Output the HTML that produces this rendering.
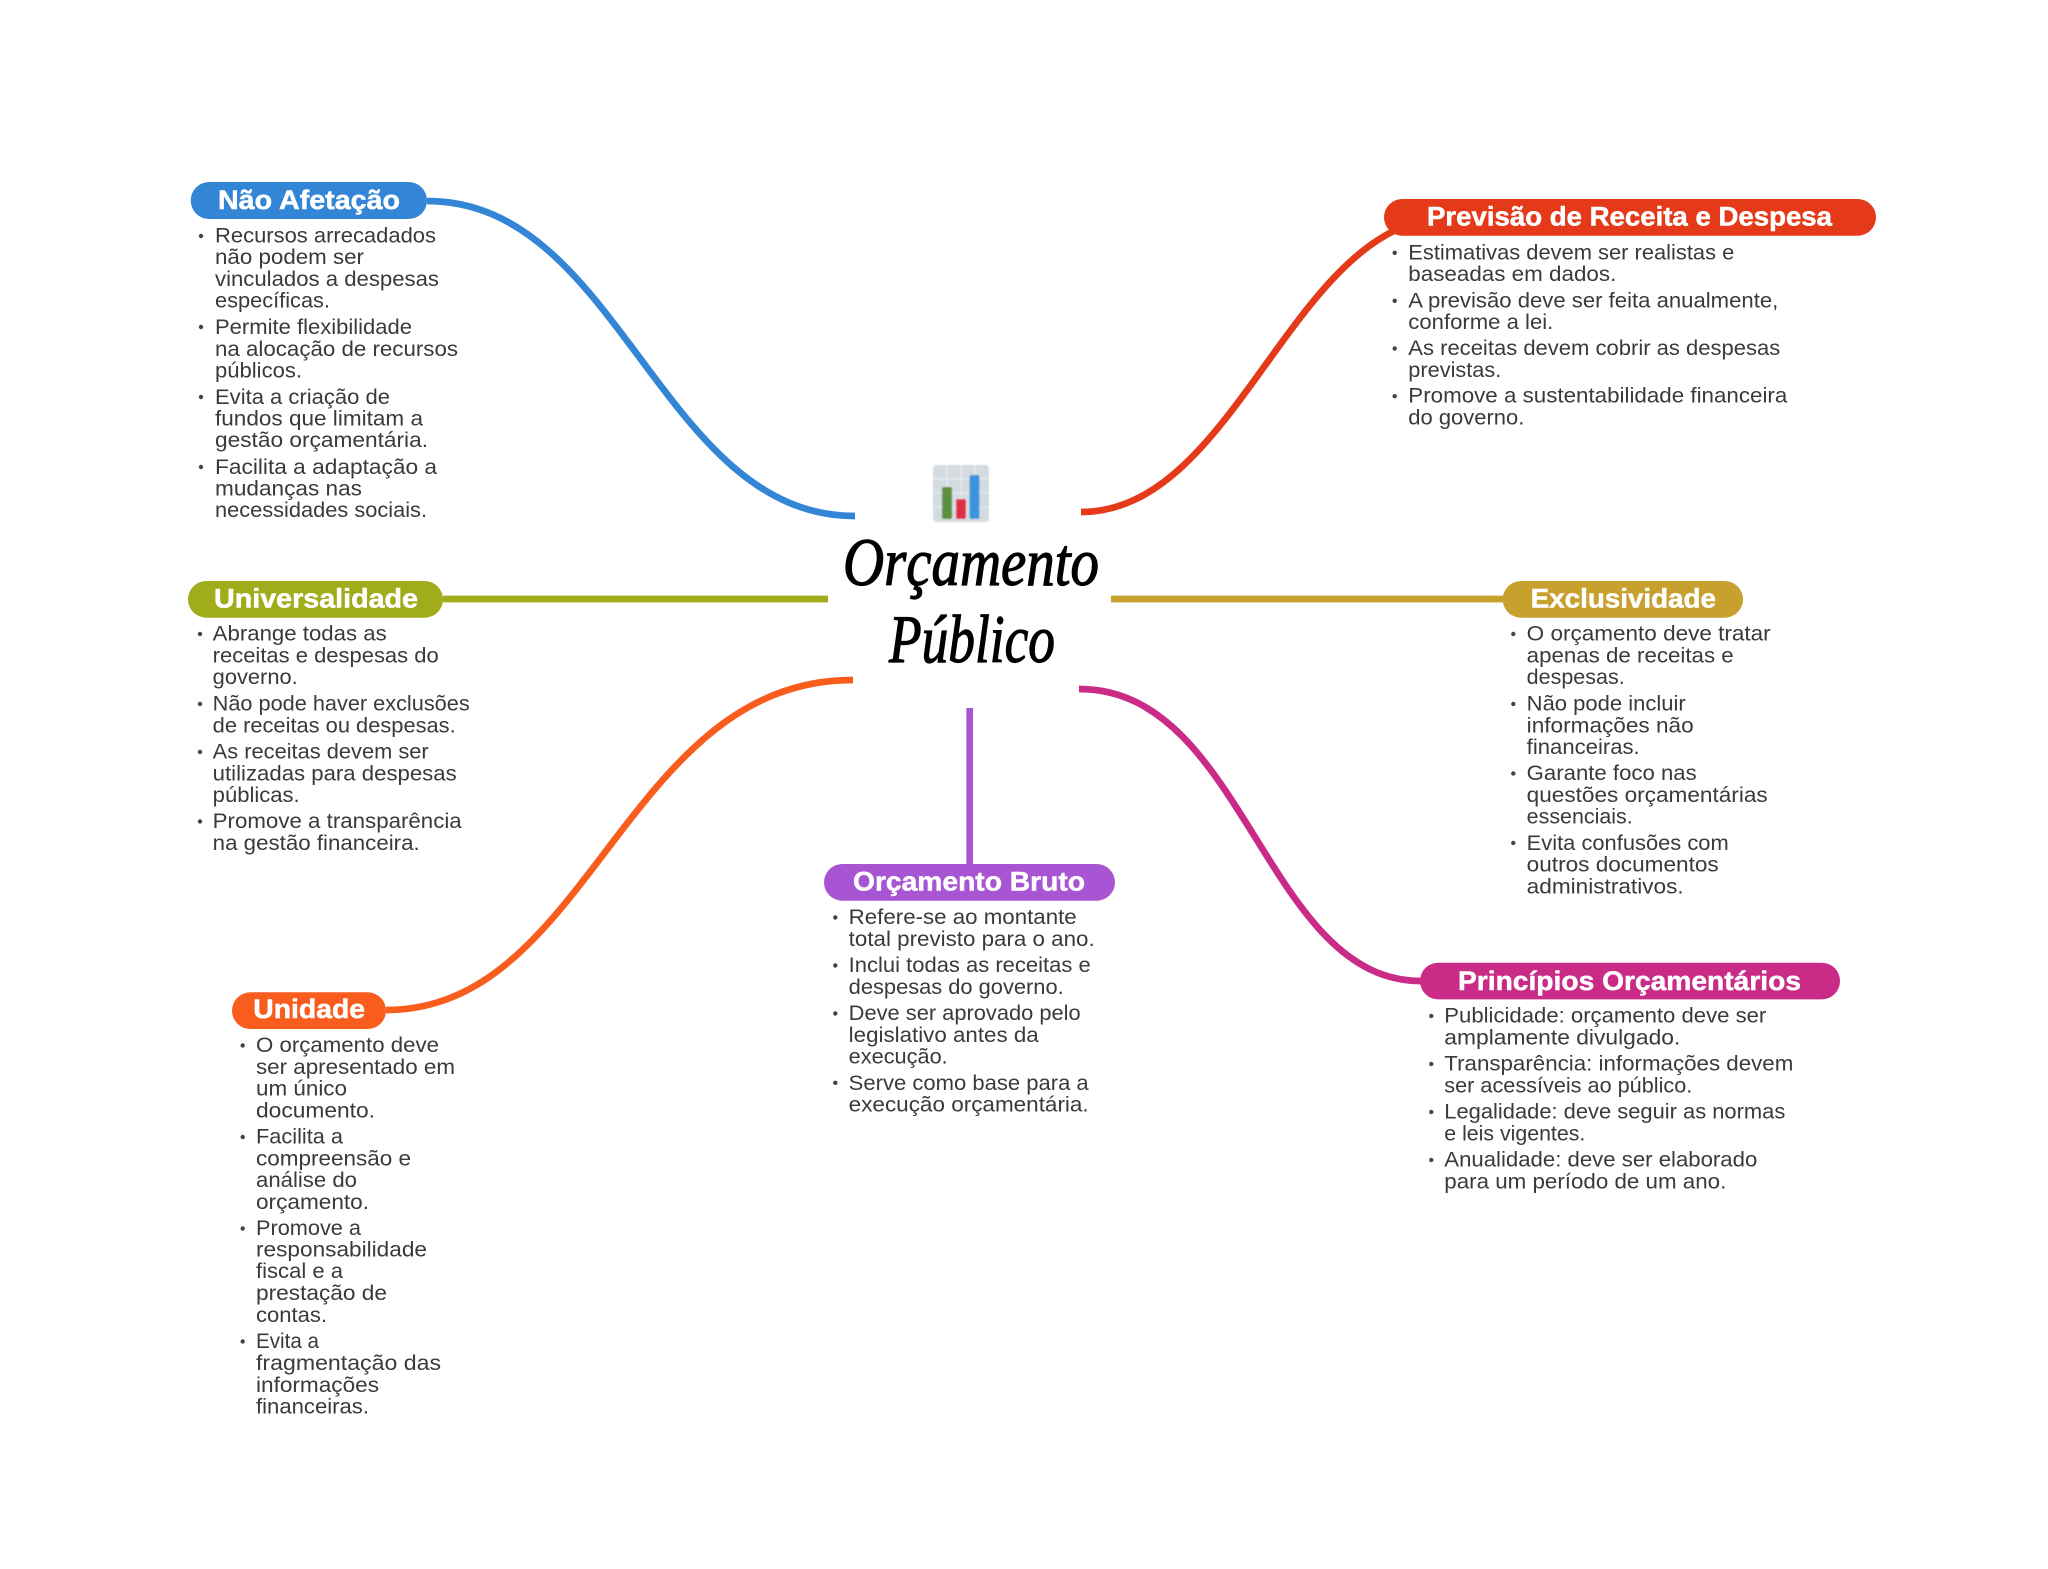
<!DOCTYPE html>
<html lang="pt">
<head>
<meta charset="utf-8">
<title>Orçamento Público</title>
<style>
html,body{margin:0;padding:0;background:#fff;width:2048px;height:1569px;overflow:hidden}
svg{display:block;position:absolute;left:0;top:0}
.b text{font:400 21px "Liberation Sans",sans-serif;fill:#3a3a3a}
.b circle{fill:#444}
.t{font:700 26.5px "Liberation Sans",sans-serif;fill:#fff;stroke:#fff;stroke-width:.5}
.c{font:italic 400 68px "Liberation Serif",serif;fill:#000;stroke:#000;stroke-width:1.2}
path,line{fill:none;stroke-width:6.7}
</style>
</head>
<body>
<svg width="2048" height="1569" viewBox="0 0 2048 1569" xmlns="http://www.w3.org/2000/svg">
<defs><filter id="bl" x="-5%" y="-5%" width="110%" height="110%"><feGaussianBlur stdDeviation="0.9"/></filter></defs>
<rect width="2048" height="1569" fill="#fff"/>

<!-- connectors -->
<path d="M427 201 C620 201 660 516 855 516" stroke="#3385d6"/>
<path d="M1081 512 C1220 512 1280 280 1400 228" stroke="#e43a19"/>
<line x1="443" y1="599" x2="828" y2="599" stroke="#a0ac1a"/>
<line x1="1111" y1="599" x2="1503" y2="599" stroke="#c8a02e"/>
<path d="M386 1010 C590 1010 625 680 853 680" stroke="#f95d1e"/>
<path d="M1079 689 C1245 689 1265 981 1421 981" stroke="#c92b86"/>
<line x1="969.7" y1="708" x2="969.7" y2="865" stroke="#a855d4"/>

<!-- icon -->
<g filter="url(#bl)">
<rect x="933" y="465" width="56" height="57" rx="4" fill="#d3dbe1"/>
<line x1="947" y1="465" x2="947" y2="522" stroke="#e4e9ed" style="stroke-width:1.6"/>
<line x1="961" y1="465" x2="961" y2="522" stroke="#e4e9ed" style="stroke-width:1.6"/>
<line x1="975" y1="465" x2="975" y2="522" stroke="#e4e9ed" style="stroke-width:1.6"/>
<line x1="933" y1="479" x2="989" y2="479" stroke="#e4e9ed" style="stroke-width:1.6"/>
<line x1="933" y1="493" x2="989" y2="493" stroke="#e4e9ed" style="stroke-width:1.6"/>
<line x1="933" y1="507" x2="989" y2="507" stroke="#e4e9ed" style="stroke-width:1.6"/>
<rect x="942" y="487" width="10" height="32" rx="2" fill="#5c913b"/>
<rect x="956" y="499" width="10" height="20" rx="2" fill="#dd2e44"/>
<rect x="969.5" y="475" width="10" height="44" rx="2" fill="#3b94dc"/>
</g>

<!-- central title -->
<text class="c" x="843" y="585" textLength="256" lengthAdjust="spacingAndGlyphs">Orçamento</text>
<text class="c" x="889" y="662" textLength="166" lengthAdjust="spacingAndGlyphs">Público</text>

<!-- pills -->
<rect x="190.7" y="182" width="236.3" height="37" rx="18.5" fill="#3385d6"/>
<text class="t" x="218" y="209" textLength="182" lengthAdjust="spacingAndGlyphs">Não Afetação</text>
<rect x="188" y="581" width="255" height="36.7" rx="18.3" fill="#a0ac1a"/>
<text class="t" x="214" y="607.7" textLength="204" lengthAdjust="spacingAndGlyphs">Universalidade</text>
<rect x="232" y="992.3" width="154" height="36.7" rx="18.3" fill="#f95d1e"/>
<text class="t" x="253.3" y="1018" textLength="111.7" lengthAdjust="spacingAndGlyphs">Unidade</text>
<rect x="824" y="864" width="291" height="36.7" rx="18.3" fill="#a855d4"/>
<text class="t" x="853" y="890.7" textLength="232" lengthAdjust="spacingAndGlyphs">Orçamento Bruto</text>
<rect x="1502.7" y="581" width="240.3" height="36.7" rx="18.3" fill="#c8a02e"/>
<text class="t" x="1530.7" y="607.7" textLength="185.3" lengthAdjust="spacingAndGlyphs">Exclusividade</text>
<rect x="1420" y="962.7" width="420" height="36.7" rx="18.3" fill="#c92b86"/>
<text class="t" x="1458" y="990" textLength="343" lengthAdjust="spacingAndGlyphs">Princípios Orçamentários</text>
<rect x="1384" y="199" width="492" height="36.7" rx="18.3" fill="#e43a19"/>
<text class="t" x="1427" y="225.7" textLength="405" lengthAdjust="spacingAndGlyphs">Previsão de Receita e Despesa</text>

<!-- Não Afetação -->
<g class="b">
<circle cx="201" cy="236" r="2.2"/><circle cx="201" cy="327" r="2.2"/><circle cx="201" cy="397" r="2.2"/><circle cx="201" cy="467" r="2.2"/>
<text x="215" y="242.3" textLength="221" lengthAdjust="spacingAndGlyphs">Recursos arrecadados</text>
<text x="215" y="264" textLength="149" lengthAdjust="spacingAndGlyphs">não podem ser</text>
<text x="215" y="286" textLength="224" lengthAdjust="spacingAndGlyphs">vinculados a despesas</text>
<text x="215" y="307.7" textLength="115" lengthAdjust="spacingAndGlyphs">específicas.</text>
<text x="215" y="334" textLength="197" lengthAdjust="spacingAndGlyphs">Permite flexibilidade</text>
<text x="215" y="356" textLength="243" lengthAdjust="spacingAndGlyphs">na alocação de recursos</text>
<text x="215" y="377.5" textLength="87" lengthAdjust="spacingAndGlyphs">públicos.</text>
<text x="215" y="404" textLength="175" lengthAdjust="spacingAndGlyphs">Evita a criação de</text>
<text x="215" y="425.5" textLength="208" lengthAdjust="spacingAndGlyphs">fundos que limitam a</text>
<text x="215" y="447" textLength="213" lengthAdjust="spacingAndGlyphs">gestão orçamentária.</text>
<text x="215" y="474" textLength="222" lengthAdjust="spacingAndGlyphs">Facilita a adaptação a</text>
<text x="215" y="495.5" textLength="147" lengthAdjust="spacingAndGlyphs">mudanças nas</text>
<text x="215" y="517" textLength="212" lengthAdjust="spacingAndGlyphs">necessidades sociais.</text>
</g>

<!-- Universalidade -->
<g class="b">
<circle cx="200" cy="634" r="2.2"/><circle cx="200" cy="704" r="2.2"/><circle cx="200" cy="752" r="2.2"/><circle cx="200" cy="821.5" r="2.2"/>
<text x="212.7" y="640.7" textLength="174" lengthAdjust="spacingAndGlyphs">Abrange todas as</text>
<text x="212.7" y="662.5" textLength="226" lengthAdjust="spacingAndGlyphs">receitas e despesas do</text>
<text x="212.7" y="684" textLength="85" lengthAdjust="spacingAndGlyphs">governo.</text>
<text x="212.7" y="710.7" textLength="257" lengthAdjust="spacingAndGlyphs">Não pode haver exclusões</text>
<text x="212.7" y="732.5" textLength="243" lengthAdjust="spacingAndGlyphs">de receitas ou despesas.</text>
<text x="212.7" y="758.7" textLength="216" lengthAdjust="spacingAndGlyphs">As receitas devem ser</text>
<text x="212.7" y="780.5" textLength="244" lengthAdjust="spacingAndGlyphs">utilizadas para despesas</text>
<text x="212.7" y="802" textLength="87" lengthAdjust="spacingAndGlyphs">públicas.</text>
<text x="212.7" y="828" textLength="249" lengthAdjust="spacingAndGlyphs">Promove a transparência</text>
<text x="212.7" y="850" textLength="207" lengthAdjust="spacingAndGlyphs">na gestão financeira.</text>
</g>

<!-- Unidade -->
<g class="b">
<circle cx="242.7" cy="1045.5" r="2.2"/><circle cx="242.7" cy="1137" r="2.2"/><circle cx="242.7" cy="1228.5" r="2.2"/><circle cx="242.7" cy="1341.5" r="2.2"/>
<text x="256" y="1052" textLength="183" lengthAdjust="spacingAndGlyphs">O orçamento deve</text>
<text x="256" y="1074" textLength="199" lengthAdjust="spacingAndGlyphs">ser apresentado em</text>
<text x="256" y="1095.5" textLength="91" lengthAdjust="spacingAndGlyphs">um único</text>
<text x="256" y="1117.3" textLength="119" lengthAdjust="spacingAndGlyphs">documento.</text>
<text x="256" y="1143.5" textLength="87" lengthAdjust="spacingAndGlyphs">Facilita a</text>
<text x="256" y="1165.3" textLength="155" lengthAdjust="spacingAndGlyphs">compreensão e</text>
<text x="256" y="1187" textLength="101" lengthAdjust="spacingAndGlyphs">análise do</text>
<text x="256" y="1208.8" textLength="113" lengthAdjust="spacingAndGlyphs">orçamento.</text>
<text x="256" y="1235" textLength="105" lengthAdjust="spacingAndGlyphs">Promove a</text>
<text x="256" y="1256.5" textLength="171" lengthAdjust="spacingAndGlyphs">responsabilidade</text>
<text x="256" y="1278" textLength="87" lengthAdjust="spacingAndGlyphs">fiscal e a</text>
<text x="256" y="1300" textLength="131" lengthAdjust="spacingAndGlyphs">prestação de</text>
<text x="256" y="1322" textLength="71" lengthAdjust="spacingAndGlyphs">contas.</text>
<text x="256" y="1348" textLength="63" lengthAdjust="spacingAndGlyphs">Evita a</text>
<text x="256" y="1370" textLength="185" lengthAdjust="spacingAndGlyphs">fragmentação das</text>
<text x="256" y="1392" textLength="123" lengthAdjust="spacingAndGlyphs">informações</text>
<text x="256" y="1413.5" textLength="113" lengthAdjust="spacingAndGlyphs">financeiras.</text>
</g>

<!-- Orçamento Bruto -->
<g class="b">
<circle cx="835.3" cy="917.5" r="2.2"/><circle cx="835.3" cy="965.5" r="2.2"/><circle cx="835.3" cy="1013.5" r="2.2"/><circle cx="835.3" cy="1082.8" r="2.2"/>
<text x="848.7" y="924" textLength="228" lengthAdjust="spacingAndGlyphs">Refere-se ao montante</text>
<text x="848.7" y="946" textLength="246" lengthAdjust="spacingAndGlyphs">total previsto para o ano.</text>
<text x="848.7" y="972" textLength="242" lengthAdjust="spacingAndGlyphs">Inclui todas as receitas e</text>
<text x="848.7" y="994" textLength="215" lengthAdjust="spacingAndGlyphs">despesas do governo.</text>
<text x="848.7" y="1020" textLength="232" lengthAdjust="spacingAndGlyphs">Deve ser aprovado pelo</text>
<text x="848.7" y="1042" textLength="190" lengthAdjust="spacingAndGlyphs">legislativo antes da</text>
<text x="848.7" y="1063.5" textLength="99" lengthAdjust="spacingAndGlyphs">execução.</text>
<text x="848.7" y="1089.8" textLength="240" lengthAdjust="spacingAndGlyphs">Serve como base para a</text>
<text x="848.7" y="1111.5" textLength="240" lengthAdjust="spacingAndGlyphs">execução orçamentária.</text>
</g>

<!-- Exclusividade -->
<g class="b">
<circle cx="1513.3" cy="634" r="2.2"/><circle cx="1513.3" cy="704" r="2.2"/><circle cx="1513.3" cy="773.5" r="2.2"/><circle cx="1513.3" cy="843" r="2.2"/>
<text x="1526.7" y="640.7" textLength="244" lengthAdjust="spacingAndGlyphs">O orçamento deve tratar</text>
<text x="1526.7" y="662.5" textLength="207" lengthAdjust="spacingAndGlyphs">apenas de receitas e</text>
<text x="1526.7" y="684" textLength="98" lengthAdjust="spacingAndGlyphs">despesas.</text>
<text x="1526.7" y="710.7" textLength="159" lengthAdjust="spacingAndGlyphs">Não pode incluir</text>
<text x="1526.7" y="732.5" textLength="167" lengthAdjust="spacingAndGlyphs">informações não</text>
<text x="1526.7" y="754" textLength="113" lengthAdjust="spacingAndGlyphs">financeiras.</text>
<text x="1526.7" y="780" textLength="170" lengthAdjust="spacingAndGlyphs">Garante foco nas</text>
<text x="1526.7" y="802" textLength="241" lengthAdjust="spacingAndGlyphs">questões orçamentárias</text>
<text x="1526.7" y="823.5" textLength="106" lengthAdjust="spacingAndGlyphs">essenciais.</text>
<text x="1526.7" y="849.8" textLength="202" lengthAdjust="spacingAndGlyphs">Evita confusões com</text>
<text x="1526.7" y="871.5" textLength="192" lengthAdjust="spacingAndGlyphs">outros documentos</text>
<text x="1526.7" y="893.5" textLength="157" lengthAdjust="spacingAndGlyphs">administrativos.</text>
</g>

<!-- Princípios Orçamentários -->
<g class="b">
<circle cx="1431.3" cy="1016" r="2.2"/><circle cx="1431.3" cy="1064" r="2.2"/><circle cx="1431.3" cy="1112" r="2.2"/><circle cx="1431.3" cy="1160" r="2.2"/>
<text x="1444.3" y="1022.7" textLength="322" lengthAdjust="spacingAndGlyphs">Publicidade: orçamento deve ser</text>
<text x="1444.3" y="1044.5" textLength="236" lengthAdjust="spacingAndGlyphs">amplamente divulgado.</text>
<text x="1444.3" y="1070.7" textLength="349" lengthAdjust="spacingAndGlyphs">Transparência: informações devem</text>
<text x="1444.3" y="1092.5" textLength="248" lengthAdjust="spacingAndGlyphs">ser acessíveis ao público.</text>
<text x="1444.3" y="1118.7" textLength="341" lengthAdjust="spacingAndGlyphs">Legalidade: deve seguir as normas</text>
<text x="1444.3" y="1140.5" textLength="141" lengthAdjust="spacingAndGlyphs">e leis vigentes.</text>
<text x="1444.3" y="1166.7" textLength="313" lengthAdjust="spacingAndGlyphs">Anualidade: deve ser elaborado</text>
<text x="1444.3" y="1188.5" textLength="282" lengthAdjust="spacingAndGlyphs">para um período de um ano.</text>
</g>

<!-- Previsão de Receita e Despesa -->
<g class="b">
<circle cx="1394.7" cy="252.8" r="2.2"/><circle cx="1394.7" cy="300.8" r="2.2"/><circle cx="1394.7" cy="348.5" r="2.2"/><circle cx="1394.7" cy="396.2" r="2.2"/>
<text x="1408.3" y="259.3" textLength="326" lengthAdjust="spacingAndGlyphs">Estimativas devem ser realistas e</text>
<text x="1408.3" y="281" textLength="208" lengthAdjust="spacingAndGlyphs">baseadas em dados.</text>
<text x="1408.3" y="307.3" textLength="370" lengthAdjust="spacingAndGlyphs">A previsão deve ser feita anualmente,</text>
<text x="1408.3" y="329" textLength="145" lengthAdjust="spacingAndGlyphs">conforme a lei.</text>
<text x="1408.3" y="355" textLength="372" lengthAdjust="spacingAndGlyphs">As receitas devem cobrir as despesas</text>
<text x="1408.3" y="377" textLength="93" lengthAdjust="spacingAndGlyphs">previstas.</text>
<text x="1408.3" y="402.7" textLength="379" lengthAdjust="spacingAndGlyphs">Promove a sustentabilidade financeira</text>
<text x="1408.3" y="424.5" textLength="116" lengthAdjust="spacingAndGlyphs">do governo.</text>
</g>
</svg>
</body>
</html>
